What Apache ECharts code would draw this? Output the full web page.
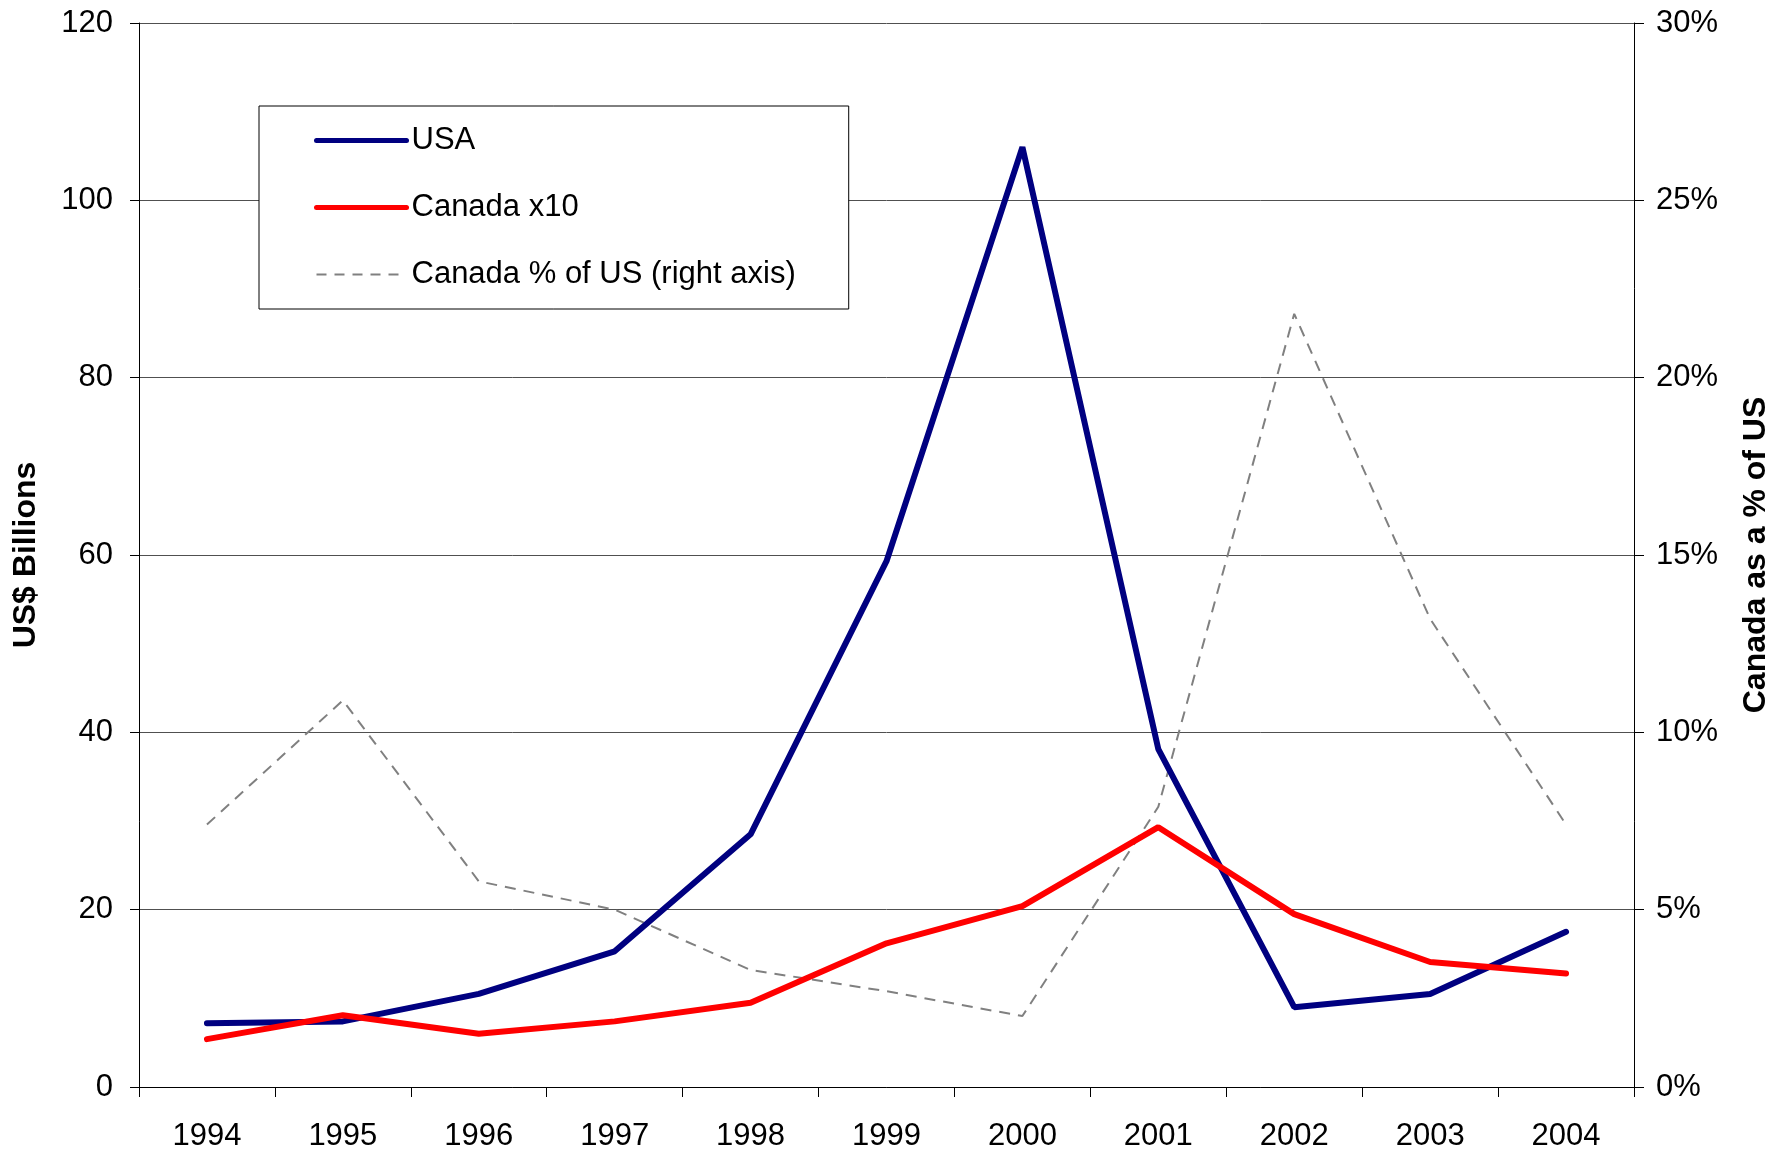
<!DOCTYPE html>
<html>
<head>
<meta charset="utf-8">
<script src="https://cdn.jsdelivr.net/npm/echarts@6/dist/echarts.min.js"></script>
<style>html,body{margin:0;padding:0;background:#fff}#c{width:1788px;height:1152px}</style>
</head>
<body>
<div id="c"></div>
<script>
const years = ['1994','1995','1996','1997','1998','1999','2000','2001','2002','2003','2004'];
const usa = [7.2, 7.4, 10.5, 15.3, 28.5, 59.3, 106.0, 38.1, 9.0, 10.5, 17.5];
const canadaX10 = [5.4, 8.1, 6.0, 7.4, 9.5, 16.2, 20.4, 29.3, 19.5, 14.1, 12.8];
const canadaPct = [7.4, 10.9, 5.8, 5.0, 3.3, 2.7, 2.0, 7.9, 21.8, 13.2, 7.4];
const seriesNames = ['USA', 'Canada x10', 'Canada % of US (right axis)'];
const leftAxisName = 'US$ Billions';
const rightAxisName = 'Canada as a % of US';

const FONT = '"Liberation Sans", Arial, sans-serif';
const chart = echarts.init(document.getElementById('c'), null, {renderer: 'canvas'});
chart.setOption({
  animation: false,
  backgroundColor: '#ffffff',
  textStyle: {fontFamily: FONT, color: '#000'},
  grid: {left: 139, right: 154, top: 23, bottom: 58},
  legend: {
    orient: 'vertical',
    left: 259, top: 106,
    padding: [19, 53, 19, 55],
    itemGap: 36,
    itemWidth: 90,
    itemHeight: 32,
    backgroundColor: '#ffffff',
    borderColor: '#000000',
    borderWidth: 1,
    itemStyle: {opacity: 0},
    textStyle: {fontFamily: FONT, fontSize: 31, color: '#000'},
    data: [
      {name: seriesNames[0], itemStyle: {opacity: 0}, lineStyle: {color: '#000080', width: 5, cap: 'round'}},
      {name: seriesNames[1], itemStyle: {opacity: 0}, lineStyle: {color: '#ff0000', width: 5, cap: 'round'}},
      {name: seriesNames[2], itemStyle: {opacity: 0}, lineStyle: {color: '#808080', width: 2, type: [10, 8]}}
    ]
  },
  xAxis: {
    type: 'category',
    data: years,
    boundaryGap: true,
    axisLine: {lineStyle: {color: '#000', width: 1}},
    axisTick: {show: true, length: 10, lineStyle: {color: '#000'}},
    axisLabel: {fontFamily: FONT, fontSize: 31, color: '#000', margin: 34},
    splitLine: {show: false}
  },
  yAxis: [
    {
      type: 'value', min: 0, max: 120, interval: 20,
      name: leftAxisName, nameLocation: 'middle', nameGap: 97, nameRotate: 90,
      nameTextStyle: {fontFamily: FONT, fontSize: 32, fontWeight: 'bold', color: '#000'},
      axisLine: {show: true, lineStyle: {color: '#000', width: 1}},
      axisTick: {show: true, length: 9, lineStyle: {color: '#000'}},
      axisLabel: {fontFamily: FONT, fontSize: 31, color: '#000', margin: 26},
      splitLine: {show: true, lineStyle: {color: '#505050', width: 1}}
    },
    {
      type: 'value', min: 0, max: 30, interval: 5, position: 'right',
      name: rightAxisName, nameLocation: 'middle', nameGap: 106, nameRotate: 90,
      nameTextStyle: {fontFamily: FONT, fontSize: 32, fontWeight: 'bold', color: '#000'},
      axisLine: {show: true, lineStyle: {color: '#000', width: 1}},
      axisTick: {show: true, length: 10, lineStyle: {color: '#000'}},
      axisLabel: {fontFamily: FONT, fontSize: 31, color: '#000', margin: 22, formatter: '{value}%'},
      splitLine: {show: false}
    }
  ],
  series: [
    {
      name: seriesNames[2], type: 'line', yAxisIndex: 1, data: canadaPct,
      symbol: 'none', color: '#808080',
      lineStyle: {color: '#808080', width: 2, type: [11, 8]}, z: 2
    },
    {
      name: seriesNames[0], type: 'line', yAxisIndex: 0, data: usa,
      symbol: 'none', color: '#000080',
      lineStyle: {color: '#000080', width: 6, cap: 'round'}, z: 3
    },
    {
      name: seriesNames[1], type: 'line', yAxisIndex: 0, data: canadaX10,
      symbol: 'none', color: '#ff0000',
      lineStyle: {color: '#ff0000', width: 6, cap: 'round'}, z: 4
    }
  ]
});
</script>
</body>
</html>
